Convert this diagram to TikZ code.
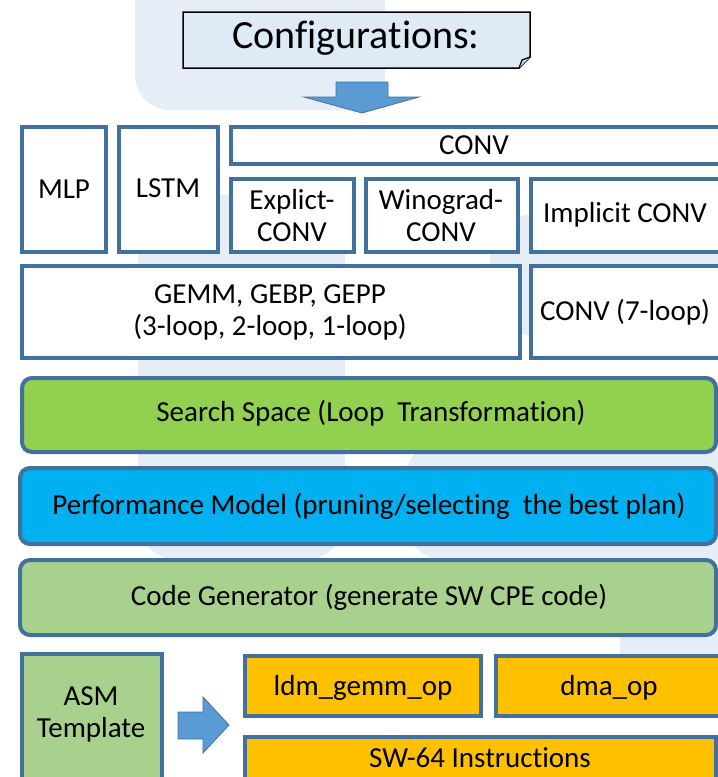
\documentclass[tikz,border=0pt]{standalone}
\usepackage{fontspec}
\setmainfont{Carlito}[Ligatures=NoCommon]
\definecolor{bord}{RGB}{65,113,156}
\definecolor{wm}{RGB}{229,238,247}
\definecolor{cfgfill}{RGB}{222,235,247}
\definecolor{arrfill}{RGB}{91,155,213}
\definecolor{ssgreen}{RGB}{146,208,80}
\definecolor{pmblue}{RGB}{0,176,240}
\definecolor{cglgreen}{RGB}{169,209,142}
\definecolor{orng}{RGB}{255,192,0}
\begin{document}
\begin{tikzpicture}[x=1pt,y=-1pt,
  every node/.style={inner sep=0pt,outer sep=0pt,font=\fontsize{29}{32}\selectfont},
  sqbox/.style={draw=bord,line width=4.5pt,fill=white,anchor=north west},
  rbox/.style={draw=bord,line width=4pt,rounded corners=10pt,anchor=north west},
  obox/.style={draw=bord,line width=4.5pt,fill=orng,anchor=north west},
  lbl/.style={align=center},
  blockarrow/.style={fill=arrfill,draw=bord,line width=0.8pt,line join=miter}
]
\clip (0,0) rectangle (718,777);
\fill[white] (0,0) rectangle (718,777);
% watermark
\fill[wm,rounded corners=35pt] (135,-60) rectangle (385,110);
\fill[wm,rounded corners=40pt] (138,195) rectangle (345,560);
\fill[wm,rounded corners=40pt] (490,215) rectangle (780,335);
\fill[wm,rounded corners=40pt] (405,440) rectangle (780,560);
\fill[wm,rounded corners=40pt] (620,600) rectangle (780,710);

% configurations note
\coordinate (c1) at (183,12);
\coordinate (c2) at (530,12);
\coordinate (c3) at (530,57);
\coordinate (c4) at (519,68);
\coordinate (c5) at (183,68);
\draw[fill=cfgfill,line width=1.5pt] (c1) -- (c2) -- (c3) -- (c4) -- (c5) -- cycle;
\draw[fill=cfgfill!80!black!60!cfgfill,line width=1.2pt] (c4) -- (522,60) -- (c3);
\node (cfg) at (356,38) {\fontsize{40}{44}\selectfont Configurations:};

% down arrow
\coordinate (da) at (362,113);
\draw[blockarrow] (336,82) -- (388,82) -- (388,97) -- (419,97) -- (da) -- (304,97) -- (336,97) -- cycle;

% top block
\node[sqbox,minimum width=84,minimum height=125] (mlp) at (22,127) {};
\node (mlpt) at (64,189) {MLP};
\node[sqbox,minimum width=99,minimum height=125] (lstm) at (119,127) {};
\node (lstmt) at (168,188) {LSTM};
\node[sqbox,minimum width=500,minimum height=37] (conv) at (231,127) {};
\node (convt) at (474,145) {CONV};
\node[sqbox,minimum width=123,minimum height=73] (exp) at (231,179) {};
\node[lbl] (expt) at (292,216) {Explict-\\CONV};
\node[sqbox,minimum width=152,minimum height=73] (wino) at (366,179) {};
\node[lbl] (winot) at (441,216) {Winograd-\\CONV};
\node[sqbox,minimum width=200,minimum height=73] (impl) at (531,179) {};
\node (implt) at (625,215) {Implicit CONV};
\node[sqbox,minimum width=498,minimum height=92] (gemm) at (22,266) {};
\node[lbl] (gemmt) at (270,312) {GEMM, GEBP, GEPP\\(3-loop, 2-loop, 1-loop)};
\node[sqbox,minimum width=200,minimum height=92] (conv7) at (531,266) {};
\node (conv7t) at (625,312) {CONV (7-loop)};

% layers
\node[rbox,fill=ssgreen,minimum width=694,minimum height=74] (ss) at (22,378) {};
\node (sst) at (371,413) {Search Space (Loop\ \ Transformation)};
\node[rbox,fill=pmblue,minimum width=696,minimum height=76] (pm) at (20,468) {};
\node (pmt) at (369,506) {Performance Model (pruning/selecting\ \ the best plan)};
\node[rbox,fill=cglgreen,minimum width=696,minimum height=75] (cg) at (20,560) {};
\node (cgt) at (369,597) {Code Generator (generate SW CPE code)};

% bottom
\node[sqbox,fill=cglgreen,minimum width=140,minimum height=140] (asm) at (22,654) {};
\node[lbl] (asmt) at (91,714) {ASM\\Template};
\coordinate (ra) at (229,725);
\draw[blockarrow] (178,712) -- (203,712) -- (203,697) -- (ra) -- (203,753) -- (203,739) -- (178,739) -- cycle;
\node[obox,minimum width=236,minimum height=60] (ldm) at (245,656) {};
\node (ldmt) at (363,688) {ldm\_gemm\_op};
\node[obox,minimum width=240,minimum height=60] (dma) at (496,656) {};
\node (dmat) at (609,688) {dma\_op};
\node[obox,minimum width=471,minimum height=60] (sw) at (245,737) {};
\node (swt) at (480,758) {SW-64 Instructions};
\end{tikzpicture}
\end{document}
